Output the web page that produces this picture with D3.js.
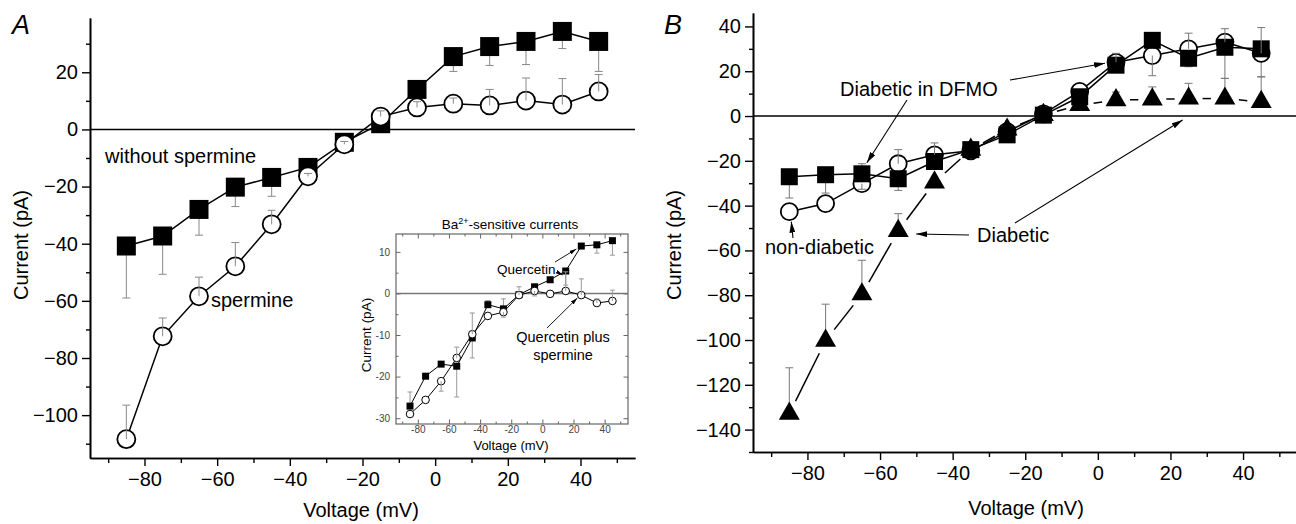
<!DOCTYPE html>
<html>
<head>
<meta charset="utf-8">
<script src="https://cdn.jsdelivr.net/npm/d3@7"></script>
<style>
body{margin:0;background:#fff}
svg{display:block}
text{font-family:'Liberation Sans',Arial,Helvetica,sans-serif;fill:#000}
.ax .domain{stroke:#000;stroke-width:1.6}
.ax line{stroke:#000;stroke-width:1.4}
.ax text{font-size:20px}
.inax .domain{display:none}
.inax line{stroke:#666;stroke-width:1}
.inax text{font-size:10px;fill:#444}
</style>
</head>
<body>
<svg id="chart" width="1296" height="524"></svg>
<script>
'use strict'

// voltage steps (mV)
var voltage = [-85,-75,-65,-55,-45,-35,-25,-15,-5,5,15,25,35,45];

// panel A (pA), errors are signed bar lengths
var withoutSpermine = [-40.8,-37.3,-28,-20.2,-16.8,-13.3,-4.5,2,14,25.5,29,30.8,34.3,30.8];
var withoutSpermineErr = [-18.2,-13.4,-9,-6.8,-6.6,-1.5,-1,-1,-5,-5.2,-6.6,-8.1,-6,-10.5];
var spermine = [-108.4,-72.4,-58.4,-47.9,-33.2,-16.4,-5.2,4.5,7.7,9,8.4,10.1,8.7,13.3];
var spermineErr = [11.9,6.4,6.7,8.3,4.9,1,1,2,2,2,5.6,7.9,9.1,5.9];

// inset: Ba2+-sensitive currents
var quercetin = [-27.1,-19.9,-17.0,-17.5,-10.7,-2.7,-3.7,-0.3,1.6,3.3,5.4,11.4,11.7,12.7];
var quercetinErr = [3.4,0,0,-7.4,-4.8,1,2.4,0,0,0,-3.4,0,-2,-3.5];
var quercetinSpermine = [-29.0,-25.6,-21.1,-15.5,-9.8,-5.4,-4.5,-0.4,0.6,-0.1,0.6,-0.4,-2.3,-1.8];
var quercetinSpermineErr = [0,0,-2.4,2.6,5.1,0,-1.2,2,-1.2,0,4.6,3.9,1,2.6];

// panel B
var dfmo = [-27.1,-26.2,-25.8,-28,-20.3,-15,-8.4,0.4,8.6,22.7,33.8,25.8,30.7,30];
var dfmoErr = [-9.5,-8.2,4.5,-5.2,0,0,0,0,0,0,0,-3.8,-13.9,-12.5];
var nonDiabetic = [-42.7,-39.1,-30.2,-21.3,-17.3,-15.5,-7,1,11,24,27,30,33,28];
var nonDiabeticErr = [0,0,-2.5,6.3,5.3,0,0,0,0,4,-9,7,6,11.5];
var diabetic = [-132.9,-100.3,-79.6,-51.3,-29.6,-15,-6,0.5,4.9,7.1,7.4,7.8,7.8,6.3];
var diabeticErr = [20.5,16.3,15.2,7.7,0,0,0,0,0,3.6,5.6,6.8,9,11.2];

// ticks
var xMajor = [-80,-60,-40,-20,0,20,40];
var xMinor = [-90,-70,-50,-30,-10,10,30,50];
var yMajorA = [-100,-80,-60,-40,-20,0,20];
var yMinorA = [-110,-90,-70,-50,-30,-10,10,30];
var yMajorB = [-140,-120,-100,-80,-60,-40,-20,0,20,40];
var yMinorB = [-150,-130,-110,-90,-70,-50,-30,-10,10,30];
var yMajorIn = [-30,-20,-10,0,10];
var yMinorIn = [-25,-15,-5,5];

var svg = d3.select('#chart');

var defs = svg.append('defs');
function addHead(id, w, h){
	defs.append('marker').attr('id', id)
		.attr('markerUnits', 'userSpaceOnUse')
		.attr('markerWidth', w).attr('markerHeight', h)
		.attr('refX', w).attr('refY', h/2)
		.attr('orient', 'auto')
		.append('path').attr('d', `M0,0L${w},${h/2}L0,${h}Z`).attr('fill', '#000');
}
addHead('head', 11, 6);
addHead('headS', 7, 4);

function arrow(x1, y1, x2, y2, small){
	svg.append('line')
		.attr('x1', x1).attr('y1', y1).attr('x2', x2).attr('y2', y2)
		.attr('stroke', '#000').attr('stroke-width', small ? 0.9 : 1.1)
		.attr('marker-end', small ? 'url(#headS)' : 'url(#head)');
}

function label(x, y, txt, size, anchor, extra){
	var t = svg.append('text').attr('x', x).attr('y', y)
		.attr('font-size', size).attr('text-anchor', anchor || 'start').text(txt);
	if(extra) extra(t);
	return t;
}

function axes(x, y, left, bottom, yMaj, yMin){
	svg.append('g').attr('class', 'ax').attr('transform', `translate(${left},0)`)
		.call(d3.axisLeft(y).tickValues(yMin).tickSize(4).tickFormat('').tickSizeOuter(0));
	svg.append('g').attr('class', 'ax').attr('transform', `translate(${left},0)`)
		.call(d3.axisLeft(y).tickValues(yMaj).tickSize(8).tickPadding(4).tickSizeOuter(0));
	svg.append('g').attr('class', 'ax').attr('transform', `translate(0,${bottom})`)
		.call(d3.axisBottom(x).tickValues(xMinor).tickSize(5).tickFormat('').tickSizeOuter(0));
	svg.append('g').attr('class', 'ax').attr('transform', `translate(0,${bottom})`)
		.call(d3.axisBottom(x).tickValues(xMajor).tickSize(8).tickPadding(6).tickSizeOuter(0));
	svg.append('line')
		.attr('x1', x.range()[0]).attr('x2', x.range()[1])
		.attr('y1', y(0)).attr('y2', y(0))
		.attr('stroke', '#000').attr('stroke-width', 1.6);
}

function series(x, y, vals, opt){
	var pts = vals.map(function(v, i){ return [x(voltage[i]), y(v)]; });
	if(opt.gap){
		for(var i = 0; i < pts.length - 1; i++){
			var a = pts[i], b = pts[i+1];
			var dx = b[0]-a[0], dy = b[1]-a[1], L = Math.sqrt(dx*dx+dy*dy);
			if(L <= opt.gap*2) continue;
			var ux = dx/L, uy = dy/L;
			svg.append('line')
				.attr('x1', a[0]+ux*opt.gap).attr('y1', a[1]+uy*opt.gap)
				.attr('x2', b[0]-ux*opt.gap).attr('y2', b[1]-uy*opt.gap)
				.attr('stroke', '#000').attr('stroke-width', opt.lw);
		}
	}
	else{
		svg.append('path').attr('d', d3.line()(pts))
			.attr('fill', 'none').attr('stroke', '#000').attr('stroke-width', opt.lw);
	}
}

function errBars(x, y, vals, errs, cap, col){
	var g = svg.append('g').attr('stroke', col).attr('stroke-width', 1);
	vals.forEach(function(v, i){
		if(!errs[i]) return;
		var px = x(voltage[i]), y1 = y(v), y2 = y(v + errs[i]);
		g.append('line').attr('x1', px).attr('x2', px).attr('y1', y1).attr('y2', y2);
		g.append('line').attr('x1', px-cap).attr('x2', px+cap).attr('y1', y2).attr('y2', y2);
	});
}

function symbols(x, y, vals, type, size, fill, sw){
	svg.append('g').selectAll('path').data(vals).join('path')
		.attr('transform', function(d, i){ return `translate(${x(voltage[i])},${y(d)})`; })
		.attr('d', d3.symbol().type(type).size(size))
		.attr('fill', fill).attr('stroke', '#000').attr('stroke-width', sw);
}

// ---------- panel A ----------
var xA = d3.scaleLinear().domain([-95, 55]).range([90, 635]);
var yA = d3.scaleLinear().domain([-115, 39]).range([458, 18]);
axes(xA, yA, 90, 458, yMajorA, yMinorA);

series(xA, yA, withoutSpermine, {lw: 1.5});
series(xA, yA, spermine, {lw: 1.5});
errBars(xA, yA, withoutSpermine, withoutSpermineErr, 4, '#888');
symbols(xA, yA, withoutSpermine, d3.symbolSquare, 19*19, '#000', 0);
symbols(xA, yA, spermine, d3.symbolCircle, Math.PI*9*9, '#fff', 1.8);
errBars(xA, yA, spermine, spermineErr, 4, '#888');

label(12, 34, 'A', 27, 'start', function(t){ t.attr('font-style', 'italic'); });
label(105, 163, 'without spermine', 20);
label(211, 307, 'spermine', 20);
label(21, 245, 'Current (pA)', 20, 'middle', function(t){ t.attr('transform', 'rotate(-90,21,245)').attr('dy', '0.35em'); });
label(361, 517, 'Voltage (mV)', 20, 'middle');

// ---------- inset ----------
var xI = d3.scaleLinear().domain([-94, 55]).range([396, 628]);
var yI = d3.scaleLinear().domain([-31.4, 14.3]).range([424, 234]);

svg.append('rect').attr('x', 396).attr('y', 234).attr('width', 232).attr('height', 190)
	.attr('fill', '#fff').attr('stroke', '#666').attr('stroke-width', 1.2);

function inAxis(gen, tx, ty, vals, len){
	svg.append('g').attr('class', 'inax').attr('transform', `translate(${tx},${ty})`)
		.call(gen.tickValues(vals).tickSize(len).tickSizeOuter(0).tickFormat(''));
}
// inward ticks on all four sides
inAxis(d3.axisBottom(xI), 0, 424, xMinor, -2.5);
inAxis(d3.axisBottom(xI), 0, 424, xMajor, -4.5);
inAxis(d3.axisTop(xI), 0, 234, xMinor, -2.5);
inAxis(d3.axisTop(xI), 0, 234, xMajor, -4.5);
inAxis(d3.axisLeft(yI), 396, 0, yMinorIn, -2.5);
inAxis(d3.axisLeft(yI), 396, 0, yMajorIn, -4.5);
inAxis(d3.axisRight(yI), 628, 0, yMinorIn, -2.5);
inAxis(d3.axisRight(yI), 628, 0, yMajorIn, -4.5);
// tick labels
svg.append('g').attr('class', 'inax').attr('transform', 'translate(0,424)')
	.call(d3.axisBottom(xI).tickValues(xMajor).tickSize(0).tickPadding(2).tickFormat(function(d){ return String(d); }));
svg.append('g').attr('class', 'inax').attr('transform', 'translate(396,0)')
	.call(d3.axisLeft(yI).tickValues(yMajorIn).tickSize(0).tickPadding(6).tickFormat(function(d){ return String(d); }));

svg.append('line').attr('x1', 396).attr('x2', 628).attr('y1', yI(0)).attr('y2', yI(0))
	.attr('stroke', '#777').attr('stroke-width', 1.6);

series(xI, yI, quercetin, {lw: 1});
series(xI, yI, quercetinSpermine, {lw: 1});
errBars(xI, yI, quercetin, quercetinErr, 2.5, '#999');
symbols(xI, yI, quercetin, d3.symbolSquare, 7*7, '#000', 0);
symbols(xI, yI, quercetinSpermine, d3.symbolCircle, Math.PI*3.8*3.8, '#fff', 1);
errBars(xI, yI, quercetinSpermine, quercetinSpermineErr, 2.5, '#999');

var ttl = label(510, 229, 'Ba', 13.5, 'middle');
ttl.append('tspan').attr('font-size', 9).attr('dy', -5).text('2+');
ttl.append('tspan').attr('dy', 5).text('-sensitive currents');
label(366, 335, 'Current (pA)', 13.5, 'middle', function(t){ t.attr('transform', 'rotate(-90,366,335)').attr('dy', '0.35em'); });
label(511, 450, 'Voltage (mV)', 13, 'middle');
label(497, 274, 'Quercetin', 13.5);
label(563, 342, 'Quercetin plus', 14.5, 'middle');
label(563, 360, 'spermine', 14.5, 'middle');

arrow(555, 262, xI(25) - 5, yI(quercetin[11]) + 3, true);
arrow(557, 272, xI(15) - 3, yI(quercetin[10]) + 4, true);
arrow(547, 328, xI(25) - 4, yI(quercetinSpermine[11]) + 3, true);

// ---------- panel B ----------
var xB = d3.scaleLinear().domain([-95, 55]).range([753, 1297.5]);
var yB = d3.scaleLinear().domain([-150, 46]).range([452, 13]);
axes(xB, yB, 753, 452, yMajorB, yMinorB);

series(xB, yB, dfmo, {lw: 1.5});
series(xB, yB, nonDiabetic, {lw: 1.5});
series(xB, yB, diabetic, {lw: 1.5, gap: 14});
errBars(xB, yB, dfmo, dfmoErr, 4, '#777');
errBars(xB, yB, diabetic, diabeticErr, 4, '#777');
symbols(xB, yB, nonDiabetic, d3.symbolCircle, Math.PI*8.5*8.5, '#fff', 1.8);
symbols(xB, yB, dfmo, d3.symbolSquare, 17*17, '#000', 0);
symbols(xB, yB, diabetic, d3.symbolTriangle, 190, '#000', 0);
errBars(xB, yB, nonDiabetic, nonDiabeticErr, 4, '#777');

label(664, 34, 'B', 27, 'start', function(t){ t.attr('font-style', 'italic'); });
label(674, 245, 'Current (pA)', 20, 'middle', function(t){ t.attr('transform', 'rotate(-90,674,245)').attr('dy', '0.35em'); });
label(1026, 515, 'Voltage (mV)', 20, 'middle');

label(840, 96, 'Diabetic in DFMO', 20);
label(765, 254, 'non-diabetic', 20);
label(977, 242, 'Diabetic', 20);

arrow(1010, 80, xB(5) - 11, yB(dfmo[9]) - 2);
arrow(907, 100, xB(-65) + 5, yB(dfmo[2]) - 11);
arrow(793, 238, xB(-85) + 2, yB(nonDiabetic[0]) + 10);
arrow(969, 235, xB(-55) + 18, yB(diabetic[3]) + 3);
arrow(1015, 223, xB(25) - 6, yB(0) + 4);
</script>
</body>
</html>
